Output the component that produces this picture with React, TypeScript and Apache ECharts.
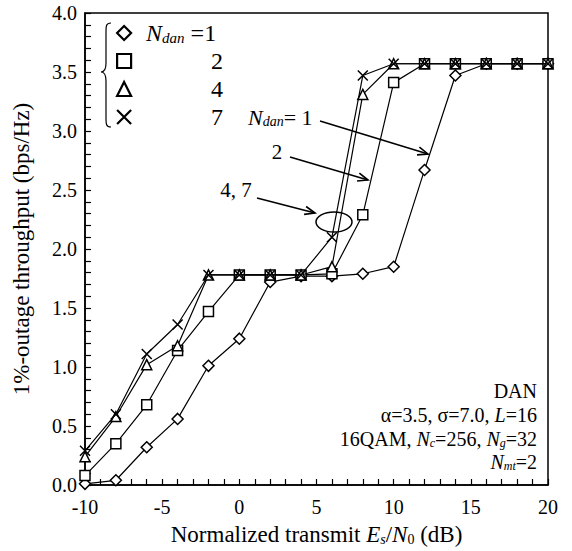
import React, { useEffect, useRef } from 'react';
import * as echarts from 'echarts';

const xValues = [-10, -8, -6, -4, -2, 0, 2, 4, 6, 8, 10, 12, 14, 16, 18, 20];
const dan1 = [0.01, 0.04, 0.32, 0.56, 1.01, 1.24, 1.72, 1.77, 1.77, 1.79, 1.85, 2.67, 3.47, 3.57, 3.57, 3.57];
const dan2 = [0.08, 0.35, 0.68, 1.14, 1.47, 1.78, 1.78, 1.78, 1.79, 2.29, 3.41, 3.57, 3.57, 3.57, 3.57, 3.57];
const dan4 = [0.24, 0.58, 1.02, 1.18, 1.78, 1.78, 1.78, 1.78, 1.85, 3.31, 3.57, 3.57, 3.57, 3.57, 3.57, 3.57];
const dan7 = [0.29, 0.60, 1.11, 1.36, 1.78, 1.78, 1.78, 1.78, 2.10, 3.47, 3.57, 3.57, 3.57, 3.57, 3.57, 3.57];
const seriesNames = ['1', '2', '4', '7'];
const seriesValues = [dan1, dan2, dan4, dan7];

const FONT = '"Liberation Serif", "Times New Roman", serif';
const CROSS = 'path://M0,0L10,10M10,0L0,10';
const symbols = ['diamond', 'rect', 'triangle', CROSS];
const symbolSizes = [11, 10, 10, 10];

echarts.graphic.registerShape(
  'brace',
  echarts.graphic.extendPath(
    'M111,23 C106,23 106,26 106,32 L106,63 C106,69 105,72 101,72 C105,72 106,75 106,81 L106,118 C106,124 106,127 111,127',
    {}
  )
);

function arrow(x1: number, y1: number, x2: number, y2: number) {
  const ang = Math.atan2(y2 - y1, x2 - x1);
  const L = 11;
  const w = 0.38;
  const p1 = [x2 - L * Math.cos(ang - w), y2 - L * Math.sin(ang - w)];
  const p2 = [x2 - L * Math.cos(ang + w), y2 - L * Math.sin(ang + w)];
  return [
    { type: 'line', shape: { x1, y1, x2, y2 }, style: { stroke: '#000', lineWidth: 1.6 } },
    { type: 'polyline', shape: { points: [p1, [x2, y2], p2] }, style: { stroke: '#000', fill: null, lineWidth: 1.6 } },
  ];
}

function richSet(size: number) {
  const sub = Math.round(size * 0.62);
  return {
    t: { fontFamily: FONT, fontSize: size, color: '#000' },
    i: { fontFamily: FONT, fontSize: size, fontStyle: 'italic', color: '#000' },
    s: { fontFamily: FONT, fontSize: sub, fontStyle: 'italic', color: '#000', verticalAlign: 'bottom', lineHeight: sub, padding: [Math.round(size * 0.42), 0, 0, 0] },
    u: { fontFamily: FONT, fontSize: sub, color: '#000', verticalAlign: 'bottom', lineHeight: sub, padding: [Math.round(size * 0.42), 0, 0, 0] },
  };
}

export default function App() {
  const ref = useRef<HTMLDivElement>(null);
  useEffect(() => {
    if (!ref.current) return;
    const chart = echarts.init(ref.current, null, { renderer: 'svg' });
    const series = seriesNames.map((name, k) => ({
      name,
      type: 'line',
      data: xValues.map((x, j) => [x, seriesValues[k][j]]),
      symbol: symbols[k],
      symbolSize: symbolSizes[k],
      showAllSymbol: true,
      lineStyle: { color: '#000', width: 1.2 },
      itemStyle: { color: '#fff', borderColor: '#000', borderWidth: 1.5 },
      emphasis: { disabled: true },
      z: 2 + k,
    }));

    const textAt = (x: number, y: number, text: string, size: number, align = 'left') => ({
      type: 'text',
      x,
      y,
      style: { text, align, verticalAlign: 'middle', fontFamily: FONT, fontSize: size, fill: '#000', rich: richSet(size) },
    });

    const graphic: any[] = [
      { type: 'brace', shape: {}, style: { stroke: '#000', fill: null, lineWidth: 1.2 } },
      textAt(248, 117, '{i|N}{s|dan}{t|= 1}', 22),
      ...arrow(320, 121, 428, 154),
      textAt(277, 152, '{t|2}', 21, 'center'),
      ...arrow(290, 157, 368, 180),
      textAt(236, 190, '{t|4, 7}', 21, 'center'),
      ...arrow(257, 198, 315, 213),
      { type: 'ellipse', shape: { cx: 334, cy: 222, rx: 18, ry: 10 }, style: { stroke: '#000', fill: null, lineWidth: 1.5 } },
      textAt(537, 391, '{t|DAN}', 20, 'right'),
      textAt(537, 415, '{t|α=3.5, σ=7.0, }{i|L}{t|=16}', 20, 'right'),
      textAt(537, 439, '{t|16QAM, }{i|N}{s|c}{t|=256, }{i|N}{s|g}{t|=32}', 20, 'right'),
      textAt(537, 462, '{i|N}{s|mt}{t|=2}', 20, 'right'),
    ];

    chart.setOption({
      animation: false,
      backgroundColor: '#fff',
      grid: { left: 85, right: 24, top: 13, bottom: 63, show: true, borderColor: '#000', borderWidth: 1.5, backgroundColor: 'transparent' },
      legend: {
        orient: 'vertical',
        left: 116,
        top: 21,
        padding: 0,
        itemWidth: 14,
        itemHeight: 14,
        itemGap: 4,
        selectedMode: false,
        data: seriesNames.map((n, k) => ({ name: n, icon: symbols[k] })),
        itemStyle: { color: '#fff', borderColor: '#000', borderWidth: 2.2 },
        formatter: (name: string) => (name === '1' ? '{n|N}{d|dan}{e| =1}' : `{r|${name}}`),
        textStyle: {
          fontFamily: FONT,
          fontSize: 24,
          color: '#000',
          lineHeight: 24,
          rich: {
            n: { fontFamily: FONT, fontSize: 24, fontStyle: 'italic', color: '#000', padding: [0, 0, 0, 10] },
            d: { fontFamily: FONT, fontSize: 15, fontStyle: 'italic', color: '#000', verticalAlign: 'bottom', lineHeight: 15, padding: [9, 0, 0, 0] },
            e: { fontFamily: FONT, fontSize: 24, color: '#000' },
            r: { fontFamily: FONT, fontSize: 24, color: '#000', width: 87, align: 'right' },
          },
        },
      },
      xAxis: {
        type: 'value',
        min: -10,
        max: 20,
        interval: 5,
        axisLine: { onZero: false, lineStyle: { color: '#000', width: 1.5 } },
        axisTick: { inside: true, length: 6, lineStyle: { color: '#000', width: 1.2 } },
        minorTick: { show: true, splitNumber: 5, length: 6, lineStyle: { color: '#000', width: 1.2 } },
        splitLine: { show: false },
        axisLabel: { fontFamily: FONT, fontSize: 20, color: '#000', margin: 12 },
        name: '{t|Normalized transmit }{i|E}{s|s}{t|/}{i|N}{u|0}{t| (dB)}',
        nameLocation: 'middle',
        nameGap: 38,
        nameTextStyle: { fontFamily: FONT, fontSize: 23, color: '#000', rich: richSet(23) },
      },
      yAxis: {
        type: 'value',
        min: 0,
        max: 4,
        interval: 0.5,
        axisLine: { onZero: false, lineStyle: { color: '#000', width: 1.5 } },
        axisTick: { inside: true, length: 6, lineStyle: { color: '#000', width: 1.2 } },
        minorTick: { show: true, splitNumber: 5, length: 6, lineStyle: { color: '#000', width: 1.2 } },
        splitLine: { show: false },
        axisLabel: { fontFamily: FONT, fontSize: 20, color: '#000', margin: 8, formatter: (v: number) => v.toFixed(1) },
        name: '1%-outage throughput (bps/Hz)',
        nameLocation: 'middle',
        nameGap: 52,
        nameTextStyle: { fontFamily: FONT, fontSize: 23, color: '#000' },
      },
      series,
      graphic,
    });
    return () => chart.dispose();
  }, []);
  return <div ref={ref} style={{ position: 'absolute', left: 0, top: 0, width: 572, height: 551 }} />;
}
